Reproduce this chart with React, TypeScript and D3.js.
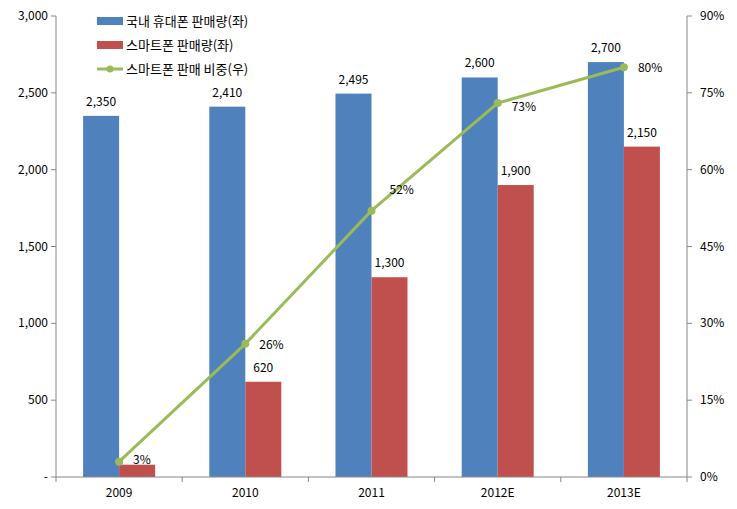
import React from "react";
import * as d3 from "d3";

const categories = ["2009", "2010", "2011", "2012E", "2013E"];
const totalSales = [2350, 2410, 2495, 2600, 2700];
const smartSales = [80, 620, 1300, 1900, 2150];
const smartShare = [3, 26, 52, 73, 80];
const leftTicks = [0, 500, 1000, 1500, 2000, 2500, 3000];
const rightTicks = [0, 15, 30, 45, 60, 75, 90];
const legendLabels = ["국내 휴대폰 판매량(좌)", "스마트폰 판매량(좌)", "스마트폰 판매 비중(우)"];

const W = 737, H = 509;
const L = 56, R = 687, T = 16, B = 477;
const BLUE = "#4F81BD", RED = "#C0504D", GREEN = "#9BBB59";
const FONT = "'Malgun Gothic', 'Noto Sans CJK KR', 'DejaVu Sans', sans-serif";

export default function App() {
  const x = d3.scaleBand<string>().domain(categories).range([L, R]).paddingInner(0).paddingOuter(0);
  const yL = d3.scaleLinear().domain([0, 3000]).range([B, T]);
  const yR = d3.scaleLinear().domain([0, 90]).range([B, T]);
  const bw = 36;
  const cx = (c: string) => (x(c) as number) + x.bandwidth() / 2;
  const fmt = d3.format(",");
  const line = d3.line<number>().x((_, i) => cx(categories[i])).y((d) => yR(d));
  const labelDx = [14, 14, 18, 14, 14];
  const labelDy = [2, 5, -17, 8, 5];

  return (
    <svg width={W} height={H} style={{ position: "absolute", left: 0, top: 0, background: "#fff" }} fontFamily={FONT}>
      {categories.map((c, i) => (
        <g key={c}>
          <rect x={cx(c) - bw} y={yL(totalSales[i])} width={bw} height={B - yL(totalSales[i])} fill={BLUE} />
          <rect x={cx(c)} y={yL(smartSales[i])} width={bw} height={B - yL(smartSales[i])} fill={RED} />
          <text x={cx(c) - bw / 2} y={yL(totalSales[i]) - 10} textAnchor="middle" fontSize={12} fill="#000">{fmt(totalSales[i])}</text>
          {i > 0 && (
            <text x={cx(c) + bw / 2} y={yL(smartSales[i]) - 10} textAnchor="middle" fontSize={12} fill="#000">{fmt(smartSales[i])}</text>
          )}
        </g>
      ))}
      <line x1={L} y1={T} x2={L} y2={B} stroke="#868686" />
      <line x1={R} y1={T} x2={R} y2={B} stroke="#868686" />
      <line x1={L} y1={B} x2={R} y2={B} stroke="#868686" />
      {leftTicks.map((t) => (
        <g key={t}>
          <line x1={L - 5} x2={L} y1={yL(t)} y2={yL(t)} stroke="#868686" />
          <text x={L - 8} y={yL(t) + 4} textAnchor="end" fontSize={12} fill="#000">{t === 0 ? "-" : fmt(t)}</text>
        </g>
      ))}
      {rightTicks.map((t) => (
        <g key={t}>
          <line x1={R} x2={R + 5} y1={yR(t)} y2={yR(t)} stroke="#868686" />
          <text x={R + 13} y={yR(t) + 4} textAnchor="start" fontSize={12} fill="#000">{t + "%"}</text>
        </g>
      ))}
      {[...categories.map((c) => x(c) as number), R].map((v, i) => (
        <line key={i} x1={v} x2={v} y1={B} y2={B + 5} stroke="#868686" />
      ))}
      {categories.map((c) => (
        <text key={c} x={cx(c)} y={B + 20} textAnchor="middle" fontSize={12} fill="#000">{c}</text>
      ))}
      <path d={line(smartShare) || ""} fill="none" stroke={GREEN} strokeWidth={3} />
      {smartShare.map((v, i) => (
        <g key={i}>
          <circle cx={cx(categories[i])} cy={yR(v)} r={4} fill={GREEN} />
          <text x={cx(categories[i]) + labelDx[i]} y={yR(v) + labelDy[i]} fontSize={12} fill="#000">{v + "%"}</text>
        </g>
      ))}
      <rect x={97} y={17} width={26} height={8} fill={BLUE} />
      <rect x={97} y={41} width={26} height={8} fill={RED} />
      <line x1={97} x2={123} y1={69} y2={69} stroke={GREEN} strokeWidth={3} />
      <circle cx={110} cy={69} r={3.5} fill={GREEN} />
      {legendLabels.map((s, i) => (
        <text key={s} x={126} y={26 + i * 24} fontSize={13} fill="#000">{s}</text>
      ))}
    </svg>
  );
}
